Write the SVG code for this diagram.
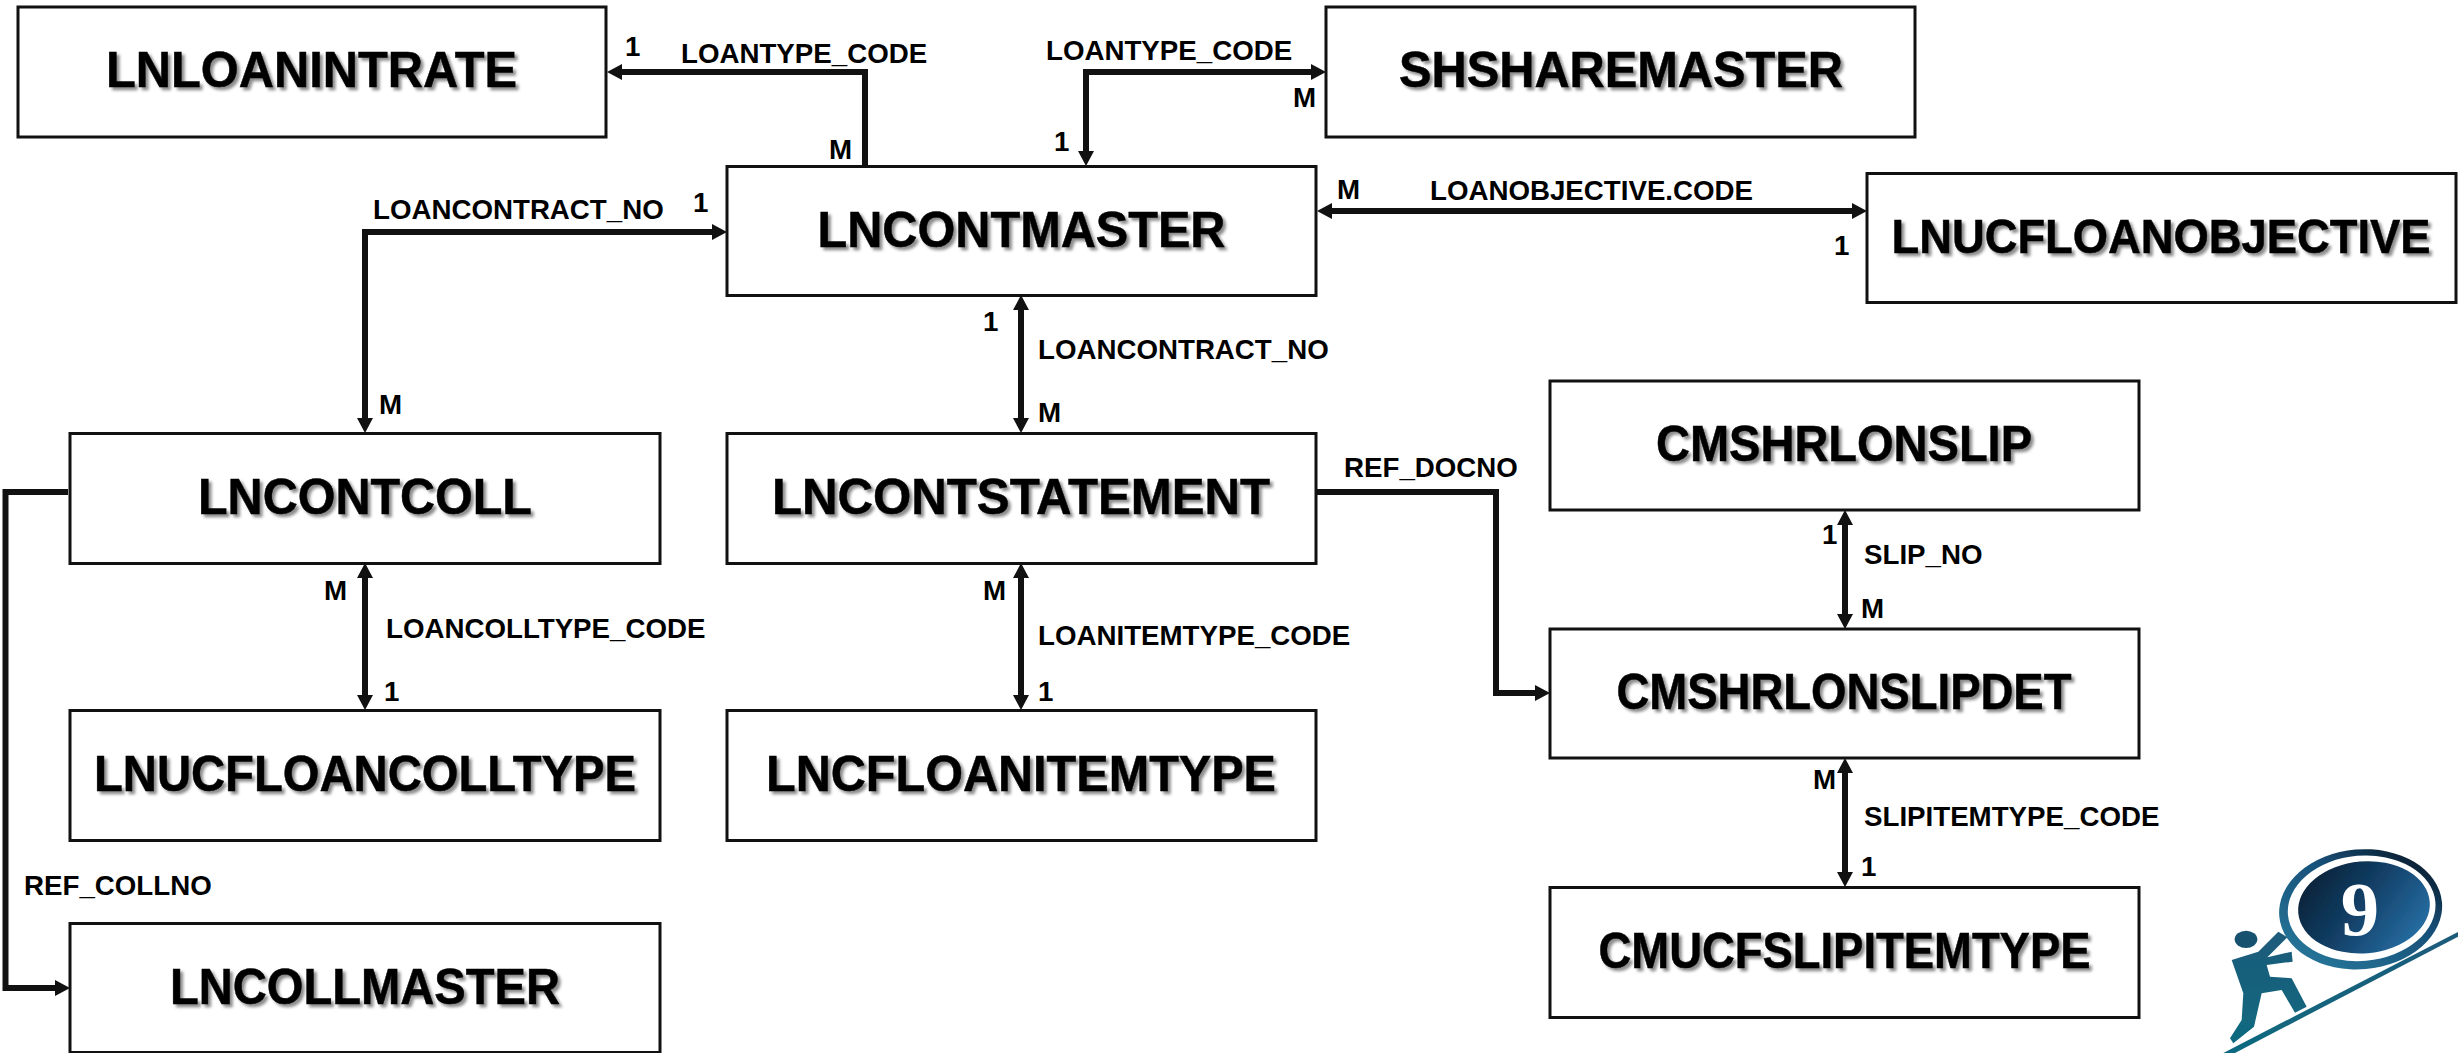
<svg xmlns="http://www.w3.org/2000/svg" width="2458" height="1053" viewBox="0 0 2458 1053">
<style>
.b{fill:#fff;stroke:#111;stroke-width:3}
.t{font:bold 50px "Liberation Sans",Arial,sans-serif;fill:#000;text-anchor:middle;filter:url(#sh);stroke:#000;stroke-width:.5}
.l{font:bold 27.7px "Liberation Sans",Arial,sans-serif;fill:#000}
.c{fill:none;stroke:#111;stroke-width:6;stroke-linejoin:miter}
.a{marker-end:url(#ah)}
.d{marker-start:url(#ah);marker-end:url(#ah)}
</style>
<defs>
<marker id="ah" markerUnits="userSpaceOnUse" markerWidth="16" markerHeight="18" refX="0" refY="8" orient="auto-start-reverse"><path d="M0 0L15 8L0 16Z" fill="#111"/></marker>
<filter id="sh" x="-5%" y="-20%" width="110%" height="150%"><feDropShadow dx="3" dy="3" stdDeviation="1.6" flood-color="#000" flood-opacity="0.45"/></filter>
<filter id="soft"><feGaussianBlur stdDeviation="0.7"/></filter>
<linearGradient id="g1" x1="0" y1="0" x2="1" y2="0.6"><stop offset="0" stop-color="#0a1a2c"/><stop offset="0.55" stop-color="#123f66"/><stop offset="1" stop-color="#256a9e"/></linearGradient>
<linearGradient id="g2" x1="0" y1="1" x2="1" y2="0"><stop offset="0" stop-color="#2a7ea0"/><stop offset="0.6" stop-color="#174f78"/><stop offset="1" stop-color="#050a12"/></linearGradient>
<linearGradient id="g3" x1="0" y1="0" x2="0" y2="1"><stop offset="0" stop-color="#1d5a7a"/><stop offset="1" stop-color="#0f6a80"/></linearGradient>
</defs>
<g id="connectors">
<path class="c a" d="M865 169V72H622"/>
<path class="c d" d="M1311 72H1086V151"/>
<path class="c d" d="M712 232H365V418"/>
<path class="c d" d="M1332 211H1852"/>
<path class="c d" d="M1021 310V418"/>
<path class="c a" d="M1316 492H1496V693H1535"/>
<path class="c d" d="M1845 525V614"/>
<path class="c a" d="M68 492H5.5V988H55"/>
<path class="c d" d="M365 578V695"/>
<path class="c d" d="M1021 578V695"/>
<path class="c d" d="M1845 773V872"/>
</g>
<g id="n1"><rect class="b" x="18" y="7" width="588" height="130"/><text class="t" x="311.5" y="87" textLength="411" lengthAdjust="spacingAndGlyphs">LNLOANINTRATE</text></g>
<g id="n2"><rect class="b" x="1326" y="7" width="589" height="130"/><text class="t" x="1621" y="87" textLength="444" lengthAdjust="spacingAndGlyphs">SHSHAREMASTER</text></g>
<g id="n3"><rect class="b" x="727" y="166.5" width="589" height="129"/><text class="t" x="1021.5" y="247" textLength="408" lengthAdjust="spacingAndGlyphs">LNCONTMASTER</text></g>
<g id="n4"><rect class="b" x="1867" y="173.5" width="589" height="129"/><text class="t" x="2161" y="253" textLength="539" lengthAdjust="spacingAndGlyphs" style="font-size:48px">LNUCFLOANOBJECTIVE</text></g>
<g id="n5"><rect class="b" x="70" y="433.5" width="590" height="130"/><text class="t" x="365" y="514" textLength="334" lengthAdjust="spacingAndGlyphs">LNCONTCOLL</text></g>
<g id="n6"><rect class="b" x="727" y="433.5" width="589" height="130"/><text class="t" x="1021" y="514" textLength="498" lengthAdjust="spacingAndGlyphs">LNCONTSTATEMENT</text></g>
<g id="n7"><rect class="b" x="1550" y="381" width="589" height="129"/><text class="t" x="1844" y="461" textLength="376" lengthAdjust="spacingAndGlyphs">CMSHRLONSLIP</text></g>
<g id="n8"><rect class="b" x="1550" y="629" width="589" height="129"/><text class="t" x="1844" y="709" textLength="455" lengthAdjust="spacingAndGlyphs">CMSHRLONSLIPDET</text></g>
<g id="n9"><rect class="b" x="70" y="710.5" width="590" height="130"/><text class="t" x="365" y="791" textLength="542" lengthAdjust="spacingAndGlyphs">LNUCFLOANCOLLTYPE</text></g>
<g id="n10"><rect class="b" x="727" y="710.5" width="589" height="130"/><text class="t" x="1021" y="791" textLength="510" lengthAdjust="spacingAndGlyphs">LNCFLOANITEMTYPE</text></g>
<g id="n11"><rect class="b" x="1550" y="887.5" width="589" height="130"/><text class="t" x="1844.5" y="968" textLength="492" lengthAdjust="spacingAndGlyphs">CMUCFSLIPITEMTYPE</text></g>
<g id="n12"><rect class="b" x="70" y="923.5" width="590" height="129"/><text class="t" x="365" y="1004" textLength="390" lengthAdjust="spacingAndGlyphs">LNCOLLMASTER</text></g>
<g id="labels">
<text class="l" x="625" y="56">1</text><text class="l" x="681" y="63">LOANTYPE_CODE</text><text class="l" x="829" y="159">M</text>
<text class="l" x="1046" y="60">LOANTYPE_CODE</text><text class="l" x="1293" y="107">M</text><text class="l" x="1054" y="151">1</text>
<text class="l" x="373" y="219">LOANCONTRACT_NO</text><text class="l" x="693" y="212">1</text><text class="l" x="379" y="414">M</text>
<text class="l" x="1337" y="199">M</text><text class="l" x="1430" y="200">LOANOBJECTIVE.CODE</text><text class="l" x="1834" y="255">1</text>
<text class="l" x="983" y="331">1</text><text class="l" x="1038" y="359">LOANCONTRACT_NO</text><text class="l" x="1038" y="422">M</text>
<text class="l" x="1344" y="477">REF_DOCNO</text>
<text class="l" x="1822" y="544">1</text><text class="l" x="1864" y="564">SLIP_NO</text><text class="l" x="1861" y="618">M</text>
<text class="l" x="1813" y="789">M</text><text class="l" x="1864" y="826">SLIPITEMTYPE_CODE</text><text class="l" x="1861" y="876">1</text>
<text class="l" x="324" y="600">M</text><text class="l" x="386" y="638">LOANCOLLTYPE_CODE</text><text class="l" x="384" y="701">1</text>
<text class="l" x="983" y="600">M</text><text class="l" x="1038" y="645">LOANITEMTYPE_CODE</text><text class="l" x="1038" y="701">1</text>
<text class="l" x="24" y="895">REF_COLLNO</text>
</g>
<g id="logo" transform="translate(2180 830) scale(.3333)" filter="url(#soft)">
<path d="M130 669L834 306V320L165 669Z" fill="url(#g3)"/>
<ellipse cx="542" cy="238" rx="245" ry="180" fill="url(#g2)" transform="rotate(-5 542 238)"/>
<ellipse cx="545" cy="235" rx="222" ry="158" fill="#fff" transform="rotate(-5 545 235)"/>
<ellipse cx="552" cy="232" rx="198" ry="138" fill="url(#g1)" transform="rotate(-5 552 232)"/>
<text x="540" y="315" font-family="Liberation Serif,serif" font-weight="bold" font-size="230" fill="#fff" text-anchor="middle">9</text>
<ellipse cx="198" cy="328" rx="34" ry="26" fill="#17516f"/>
<path d="M155 390L235 365L295 305L322 322L262 382L335 365L338 395L260 405L270 440L335 445L380 530L345 548L305 480L245 490L222 590L160 640L150 625L185 570L190 490Z" fill="url(#g3)"/>
</g>
</svg>
